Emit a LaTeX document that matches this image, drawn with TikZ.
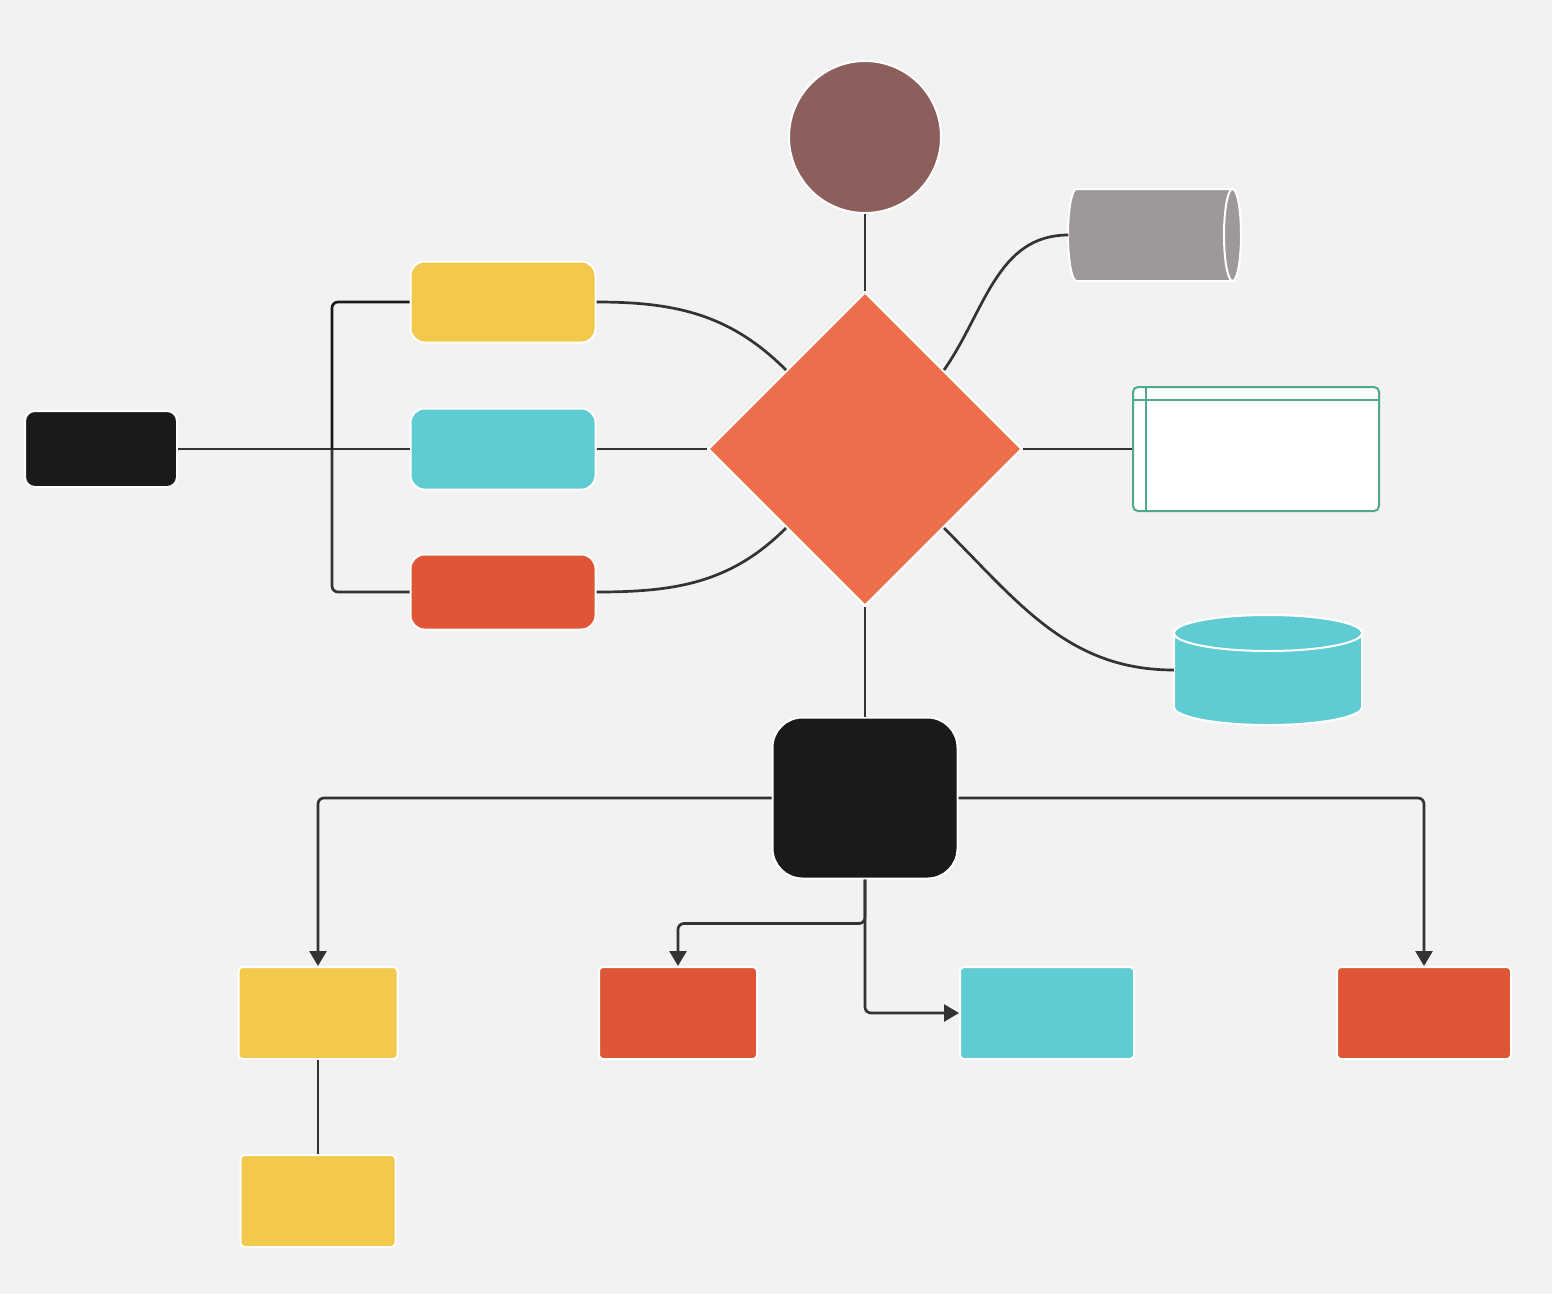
\documentclass[tikz,border=0pt]{standalone}
\usetikzlibrary{shapes.geometric,arrows.meta}
\definecolor{bg}{HTML}{F2F2F2}
\definecolor{ink}{HTML}{1A1A1A}
\definecolor{linec}{HTML}{333333}
\definecolor{yel}{HTML}{F2C94A}
\definecolor{cya}{HTML}{5FCBD3}
\definecolor{red}{HTML}{E05536}
\definecolor{ora}{HTML}{EC6F4B}
\definecolor{bro}{HTML}{8C5F5C}
\definecolor{gry}{HTML}{9E9898}
\definecolor{grn}{HTML}{4FA98C}
\begin{document}
\begin{tikzpicture}[x=1pt,y=-1pt,
    box/.style={draw=white,line width=2pt,inner sep=0pt},
    link/.style={draw=linec,line width=2.7pt,rounded corners=6pt},
    arr/.style={link,-{Triangle[length=15pt,width=17pt]}}]
  \fill[bg] (0,0) rectangle (1552,1294);
  \def \Boxes{
    blk/101/449/152/76/ink/10,
    ya/503/302/185/81/yel/14,
    ca/503/449/185/81/cya/14,
    ra/503/592/185/75/red/14,
    hub/865/798/185/161/ink/30,
    yb/318/1013/159/92/yel/4,
    rb/678/1013/158/92/red/4,
    cb/1047/1013/174/92/cya/4,
    rc/1424/1013/174/92/red/4,
    yc/318/1201/155/92/yel/4}
  \foreach \id / \x / \y / \w / \h / \c / \r in \Boxes{
    \node[box,fill=\c,minimum width=\w pt,minimum height=\h pt,rounded corners=\r pt] (\id) at (\x,\y) {};
  }
  \node[box,circle,fill=bro,minimum size=152pt] (top) at (865,137) {};
  \node[box,diamond,fill=ora,minimum width=314pt,minimum height=314pt] (dia) at (865,449) {};
  \node[draw=grn,line width=2pt,fill=white,rounded corners=5pt,inner sep=0pt,minimum width=246pt,minimum height=124pt] (tbl) at (1256,449) {};
  \draw[grn,line width=2pt] ([yshift=-14pt]tbl.north west) -- ([yshift=-14pt]tbl.north east);
  \draw[grn,line width=2pt] ([xshift=14pt]tbl.north west) -- ([xshift=14pt]tbl.south west);
  % drum and database, drawn by hand
  \node[inner sep=0pt,minimum width=173pt,minimum height=92pt] (drum) at (1155,235) {};
  \draw[box,fill=gry] (1076.5,189) -- (1232.5,189) arc[start angle=90,end angle=-90,x radius=8.5pt,y radius=46pt]
    -- (1076.5,281) arc[start angle=270,end angle=90,x radius=8.5pt,y radius=46pt] -- cycle;
  \draw[box,fill=gry] (1232.5,235) ellipse[x radius=8.5pt,y radius=46pt];
  \node[inner sep=0pt,minimum width=188pt,minimum height=110pt] (db) at (1268,670) {};
  \draw[box,fill=cya] (1174,633) -- (1174,707) arc[start angle=180,end angle=360,x radius=94pt,y radius=18pt]
    -- (1362,633) arc[start angle=0,end angle=180,x radius=94pt,y radius=18pt] -- cycle;
  \draw[box,fill=cya] (1268,633) ellipse[x radius=94pt,y radius=18pt];
  % straight links
  \def \Edges{
    blk/ca,
    ca/dia,
    top/dia,
    dia/hub,
    dia/tbl,
    yb/yc}
  \foreach \x / \y in \Edges{
    \path[link] (\x) -- (\y);
  }
  \path (blk.east) -- ++(154,0) coordinate (fork);
  \draw[link,ink] (fork) |- (ya.west);
  \draw[link] (fork) |- (ra.west);
  \draw[link] (ya.east) to[out=0,in=135] (dia.north west);
  \draw[link] (ra.east) to[out=0,in=-135] (dia.south west);
  \draw[link] (dia.north east) to[out=55,in=180] (drum.west);
  \draw[link] (dia.south east) to[out=-45,in=180] (db.west);
  % arrows from hub
  \draw[arr] (hub.west) -| (yb.north);
  \draw[arr] (hub.east) -| (rc.north);
  \draw[arr] (hub.south) -- ++(0,44) -| (rb.north);
  \draw[arr] (hub.south) |- (cb.west);
\end{tikzpicture}
\end{document}
